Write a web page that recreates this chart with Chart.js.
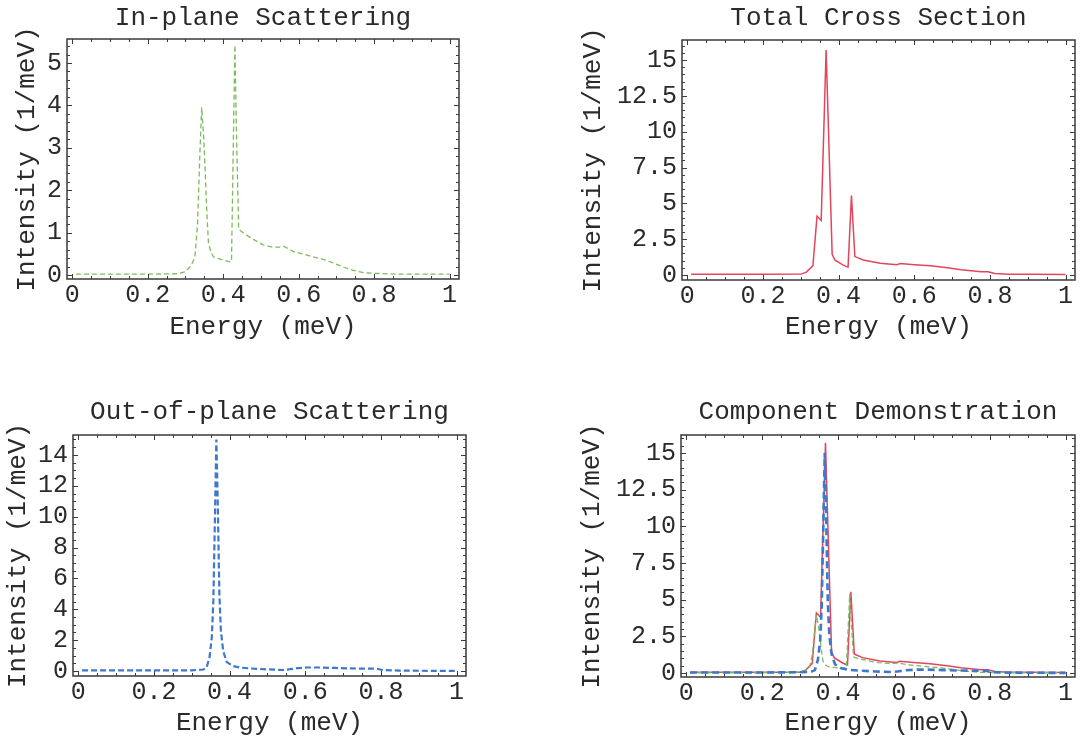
<!DOCTYPE html>
<html>
<head>
<meta charset="utf-8">
<script src="https://cdn.jsdelivr.net/npm/chart.js@4/dist/chart.umd.min.js"></script>
<style>
  html, body { margin: 0; padding: 0; background: #ffffff; }
  #page { position: relative; width: 1086px; height: 740px; overflow: hidden; background: #ffffff; }
  #page canvas { position: absolute; }
</style>
</head>
<body>
<div id="page">
  <canvas id="inPlane"></canvas>
  <canvas id="total"></canvas>
  <canvas id="outPlane"></canvas>
  <canvas id="components"></canvas>
</div>
<script>
// In-plane scattering intensity (1/meV) against energy (meV)
const inPlaneEnergy = [0.01, 0.10, 0.20, 0.28, 0.30, 0.315, 0.325, 0.332, 0.338, 0.343, 0.348, 0.352, 0.357, 0.361, 0.367, 0.374, 0.39, 0.405, 0.418, 0.422, 0.431, 0.436, 0.441, 0.445, 0.462, 0.48, 0.506, 0.53, 0.55, 0.56, 0.585, 0.61, 0.638, 0.665, 0.69, 0.71, 0.727, 0.745, 0.775, 0.80, 0.86, 0.93, 1.00];
const inPlaneIntensity = [0.02, 0.02, 0.02, 0.03, 0.08, 0.22, 0.42, 1.2, 2.8, 3.95, 3.3, 2.5, 1.4, 0.75, 0.55, 0.43, 0.38, 0.34, 0.31, 0.32, 5.42, 3.0, 1.1, 1.05, 0.94, 0.84, 0.71, 0.66, 0.66, 0.68, 0.56, 0.50, 0.43, 0.37, 0.29, 0.22, 0.16, 0.11, 0.05, 0.04, 0.02, 0.02, 0.02];

// Out-of-plane scattering intensity
const outPlaneEnergy = [0.01, 0.10, 0.20, 0.30, 0.33, 0.339, 0.347, 0.353, 0.357, 0.361, 0.365, 0.369, 0.373, 0.377, 0.383, 0.392, 0.409, 0.43, 0.454, 0.498, 0.542, 0.56, 0.58, 0.604, 0.639, 0.68, 0.719, 0.79, 0.803, 0.85, 0.90, 1.00];
const outPlaneIntensity = [0.04, 0.04, 0.04, 0.05, 0.10, 0.20, 0.90, 2.2, 4.5, 9.6, 15.0, 10.5, 5.0, 2.6, 1.3, 0.6, 0.32, 0.22, 0.17, 0.11, 0.07, 0.12, 0.19, 0.23, 0.23, 0.20, 0.17, 0.15, 0.07, 0.03, 0.02, 0.01];

// Total cross section
const totalEnergy = [0.01, 0.10, 0.20, 0.30, 0.314, 0.332, 0.343, 0.349, 0.354, 0.367, 0.383, 0.39, 0.41, 0.42, 0.425, 0.434, 0.443, 0.447, 0.465, 0.51, 0.554, 0.563, 0.60, 0.643, 0.688, 0.724, 0.777, 0.795, 0.813, 0.85, 0.91, 1.00];
const totalIntensity = [0.05, 0.05, 0.05, 0.06, 0.18, 0.64, 4.1, 3.94, 3.8, 15.7, 1.45, 1.05, 0.72, 0.60, 0.55, 5.54, 1.3, 1.25, 1.05, 0.82, 0.72, 0.80, 0.72, 0.64, 0.50, 0.36, 0.23, 0.23, 0.10, 0.06, 0.05, 0.03];

// Axis tick values and their labels
const energyTicks = [0, 0.2, 0.4, 0.6, 0.8, 1];
const energyTickLabels = ['0', '0.2', '0.4', '0.6', '0.8', '1'];
const inPlaneTicks = [0, 1, 2, 3, 4, 5];
const inPlaneTickLabels = ['0', '1', '2', '3', '4', '5'];
const totalTicks = [0, 2.5, 5, 7.5, 10, 12.5, 15];
const totalTickLabels = ['0', '2.5', '5', '7.5', '10', '12.5', '15'];
const outPlaneTicks = [0, 2, 4, 6, 8, 10, 12, 14];
const outPlaneTickLabels = ['0', '2', '4', '6', '8', '10', '12', '14'];

const FONT = "'Liberation Mono', 'Courier New', monospace";
const TEXT = '#2a2a2a';
const RED = '#e2465c';
const GREEN = '#7dbb5c';
const BLUE = '#3c78cc';

const toPoints = (xs, ys) => xs.map((x, i) => ({ x: x, y: ys[i] }));

// Frame with inward major/minor ticks on all four sides
const frameTicks = {
  id: 'frameTicks',
  afterDraw(chart, args, opts) {
    const { ctx, chartArea: a, scales } = chart;
    const xs = scales.x, ys = scales.y;
    ctx.save();
    ctx.strokeStyle = '#3a3a3a';
    ctx.lineWidth = 1;
    const seg = (x1, y1, x2, y2) => { ctx.beginPath(); ctx.moveTo(x1, y1); ctx.lineTo(x2, y2); ctx.stroke(); };
    for (let k = 0; k <= 20; k++) {
      const v = k * 0.05;
      const len = (k % 4 === 0) ? 5 : 3;
      const p = Math.round(xs.getPixelForValue(v)) + 0.5;
      seg(p, a.bottom, p, a.bottom - len);
      seg(p, a.top, p, a.top + len);
    }
    const n = Math.floor(ys.max / opts.minorStep + 1e-9);
    for (let k = 0; k <= n; k++) {
      const v = k * opts.minorStep;
      const r = v / opts.majorStep;
      const len = Math.abs(r - Math.round(r)) < 1e-6 ? 5 : 3;
      const p = Math.round(ys.getPixelForValue(v)) + 0.5;
      seg(a.left, p, a.left + len, p);
      seg(a.right, p, a.right - len, p);
    }
    ctx.lineWidth = 1.5;
    ctx.strokeRect(a.left, a.top, a.right - a.left, a.bottom - a.top);
    ctx.restore();
  }
};

function makePanel(id, box, title, datasets, yAxis) {
  // box: frame rectangle plus centres of the chart title, y-title and x-title
  const LEFT = box.l - box.yTitleX + 15;
  const top = box.titleY - 13;
  const TOP = box.t - top;
  const BOTTOM = box.xTitleY + 16 - box.b;
  const RIGHT = 12;
  const canvas = document.getElementById(id);
  const w = LEFT + (box.r - box.l) + RIGHT;
  const h = TOP + (box.b - box.t) + BOTTOM;
  canvas.width = w; canvas.height = h;
  canvas.style.width = w + 'px'; canvas.style.height = h + 'px';
  canvas.style.left = (box.l - LEFT) + 'px';
  canvas.style.top = top + 'px';

  new Chart(canvas, {
    type: 'line',
    data: { datasets: datasets },
    options: {
      responsive: false,
      animation: false,
      devicePixelRatio: 1,
      layout: { padding: { left: 0, top: 0, right: RIGHT, bottom: 0 } },
      elements: { point: { radius: 0 }, line: { tension: 0 } },
      plugins: {
        legend: { display: false },
        tooltip: { enabled: false },
        title: {
          display: true, text: title, fullSize: false, color: TEXT,
          font: { family: FONT, size: 26, weight: 'normal', lineHeight: 1 },
          padding: { top: 0, bottom: TOP - 26 }
        },
        frameTicks: { minorStep: yAxis.minorStep, majorStep: yAxis.majorStep }
      },
      scales: {
        x: {
          type: 'linear', min: -0.014, max: 1.025,
          afterBuildTicks: s => { s.ticks = energyTicks.map(v => ({ value: v })); },
          afterFit: s => { s.height = BOTTOM; },
          grid: { display: false, drawTicks: false },
          border: { display: false },
          ticks: {
            autoSkip: false, maxRotation: 0, padding: 4, color: TEXT,
            font: { family: FONT, size: 25, lineHeight: 1 },
            callback: v => energyTickLabels[energyTicks.indexOf(v)]
          },
          title: {
            display: true, text: 'Energy (meV)', color: TEXT,
            font: { family: FONT, size: 26, lineHeight: 1 },
            padding: { top: 0, bottom: 3 }
          }
        },
        y: {
          type: 'linear', min: yAxis.min, max: yAxis.max,
          afterBuildTicks: s => { s.ticks = yAxis.ticks.map(v => ({ value: v })); },
          afterFit: s => { s.width = LEFT; },
          grid: { display: false, drawTicks: false },
          border: { display: false },
          ticks: {
            autoSkip: false, padding: 5, color: TEXT,
            font: { family: FONT, size: 25, lineHeight: 1 },
            callback: v => yAxis.labels[yAxis.ticks.indexOf(v)]
          },
          title: {
            display: true, text: 'Intensity (1/meV)', color: TEXT,
            font: { family: FONT, size: 26, lineHeight: 1 },
            padding: { top: 2, bottom: 0 }
          }
        }
      }
    },
    plugins: [frameTicks]
  });
}

const greenLine = (extra) => Object.assign({
  data: toPoints(inPlaneEnergy, inPlaneIntensity),
  borderColor: GREEN, borderWidth: 1.3, borderDash: [5, 3], fill: false
}, extra || {});
const blueLine = (extra) => Object.assign({
  data: toPoints(outPlaneEnergy, outPlaneIntensity),
  borderColor: BLUE, borderWidth: 2.2, borderDash: [6, 3], fill: false
}, extra || {});
const redLine = (extra) => Object.assign({
  data: toPoints(totalEnergy, totalIntensity),
  borderColor: RED, borderWidth: 1.5, fill: false
}, extra || {});

makePanel('inPlane',
  { l: 67, t: 39, r: 459, b: 279, titleY: 18, yTitleX: 27, xTitleY: 327 },
  'In-plane Scattering',
  [greenLine({ label: 'In-plane' })],
  { min: -0.094, max: 5.566, ticks: inPlaneTicks, labels: inPlaneTickLabels, minorStep: 0.2, majorStep: 1 });

makePanel('total',
  { l: 682, t: 40, r: 1075, b: 280, titleY: 18, yTitleX: 593, xTitleY: 327 },
  'Total Cross Section',
  [redLine({ label: 'Total' })],
  { min: -0.35, max: 16.4, ticks: totalTicks, labels: totalTickLabels, minorStep: 0.5, majorStep: 2.5 });

makePanel('outPlane',
  { l: 73, t: 435, r: 466, b: 676, titleY: 412, yTitleX: 18, xTitleY: 723 },
  'Out-of-plane Scattering',
  [blueLine({ label: 'Out-of-plane' })],
  { min: -0.32, max: 15.29, ticks: outPlaneTicks, labels: outPlaneTickLabels, minorStep: 0.5, majorStep: 2 });

// Dataset 0 is drawn last, so the blue component sits on top
makePanel('components',
  { l: 681, t: 435, r: 1075, b: 677, titleY: 412, yTitleX: 592, xTitleY: 723 },
  'Component Demonstration',
  [blueLine({ label: 'Out-of-plane', borderWidth: 2.6, borderDash: [7, 4] }),
   greenLine({ label: 'In-plane' }),
   redLine({ label: 'Total' })],
  { min: -0.27, max: 16.23, ticks: totalTicks, labels: totalTickLabels, minorStep: 0.5, majorStep: 2.5 });
</script>
</body>
</html>
